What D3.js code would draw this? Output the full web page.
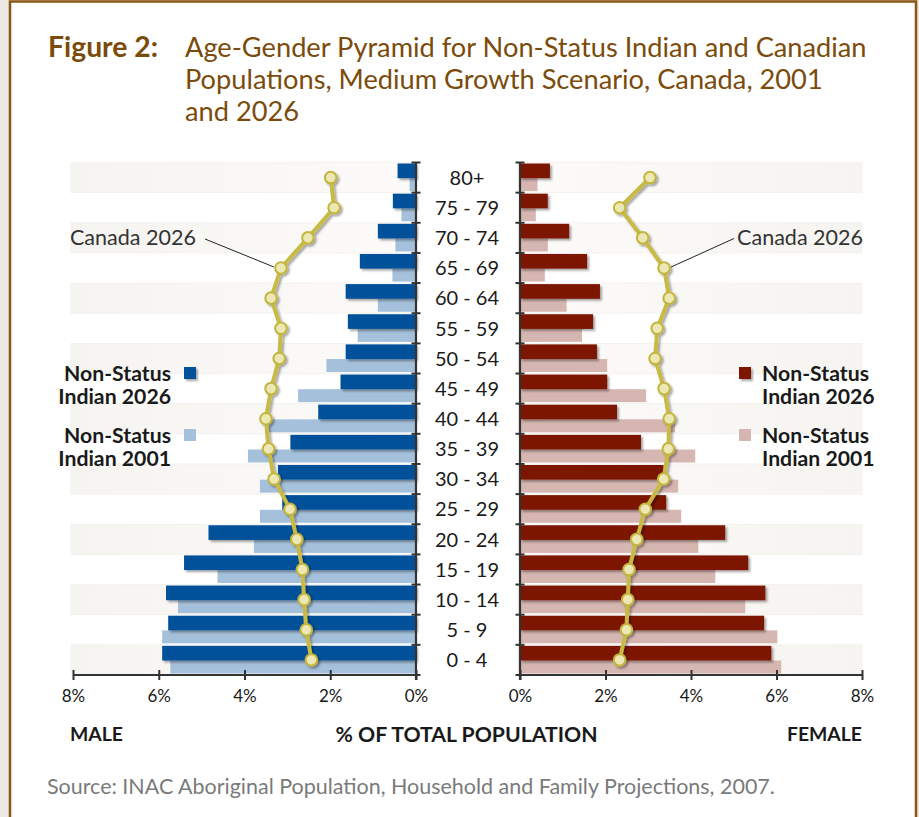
<!DOCTYPE html>
<html>
<head>
<meta charset="utf-8">
<script src="https://cdn.jsdelivr.net/npm/d3@7"></script>
<style>
  html, body { margin: 0; padding: 0; background: #ebe7e2; }
  svg { display: block; }
  text { font-family: Lato, "Open Sans", sans-serif; }
</style>
</head>
<body>
<svg id="chart" width="919" height="817"></svg>
<script>
// ---------- DATA (bottom age group first) ----------
const ages = ["0 - 4","5 - 9","10 - 14","15 - 19","20 - 24","25 - 29","30 - 34","35 - 39","40 - 44","45 - 49","50 - 54","55 - 59","60 - 64","65 - 69","70 - 74","75 - 79","80+"];
const male2026     = [5.92,5.78,5.83,5.41,4.84,3.12,3.22,2.93,2.28,1.76,1.64,1.59,1.64,1.31,0.89,0.54,0.43];
const male2001     = [5.73,5.92,5.55,4.63,3.78,3.64,3.64,3.92,3.50,2.75,2.09,1.36,0.89,0.55,0.48,0.34,0.15];
const maleCanada   = [2.44,2.56,2.61,2.65,2.78,2.94,3.31,3.44,3.50,3.38,3.19,3.15,3.38,3.15,2.52,1.91,1.99];
const female2026   = [5.88,5.71,5.74,5.34,4.80,3.42,3.36,2.83,2.27,2.04,1.80,1.71,1.87,1.57,1.15,0.65,0.70];
const female2001   = [6.11,6.02,5.27,4.57,4.17,3.77,3.70,4.10,3.63,2.95,2.04,1.45,1.09,0.58,0.65,0.37,0.41];
const femaleCanada = [2.33,2.49,2.52,2.55,2.73,2.93,3.36,3.47,3.49,3.37,3.16,3.21,3.49,3.37,2.87,2.33,3.04];
const xTicks = [0,2,4,6,8];
const titleLines = ["Age-Gender Pyramid for Non-Status Indian and Canadian","Populations, Medium Growth Scenario, Canada, 2001","and 2026"];

// ---------- STYLE ----------
const C = {
  blueDark:"#00519a", blueLight:"#a5c0da", redDark:"#7b1600", redLight:"#d6b6b1",
  line:"#c8ba42", ptFill:"#ece8b6", ptStroke:"#c3b43b",
  title:"#7b4b0b", frame:"#8a5716", text:"#1a1a1a", axis:"#333333", source:"#7a7a7a"
};

const svg = d3.select("#chart");
const defs = svg.append("defs");
const sh = defs.append("filter").attr("id","shadow").attr("x","-10%").attr("y","-30%").attr("width","130%").attr("height","180%");
sh.append("feDropShadow").attr("dx",2).attr("dy",2).attr("stdDeviation",1.3).attr("flood-color","#000").attr("flood-opacity",0.35);
const gL = defs.append("linearGradient").attr("id","gradL");
gL.append("stop").attr("offset","0%").attr("stop-color","#f6f4f0");
gL.append("stop").attr("offset","100%").attr("stop-color","#fcfbfa");
const gR = defs.append("linearGradient").attr("id","gradR");
gR.append("stop").attr("offset","0%").attr("stop-color","#fcfbfa");
gR.append("stop").attr("offset","100%").attr("stop-color","#f6f4f0");

// frame
svg.append("rect").attr("x",10).attr("y",1.5).attr("width",906).attr("height",900)
  .attr("fill","#fff").attr("stroke",C.frame).attr("stroke-width",2.5);

function fit(sel, w){
  const cur = sel.node().getComputedTextLength();
  const fs = parseFloat(sel.attr("font-size"));
  const nfs = fs * w / cur;
  sel.attr("font-size", nfs);
  return nfs;
}

// ---------- TITLE ----------
const fig = svg.append("text").attr("x",48).attr("y",57).attr("font-size",26).attr("font-weight",700)
  .attr("fill",C.title).text("Figure 2:");
fit(fig, 110);
const t1 = svg.append("text").attr("x",185).attr("y",57).attr("font-size",26).attr("fill",C.title).text(titleLines[0]);
const tfs = fit(t1, 682);
titleLines.slice(1).forEach((l,i)=>{
  svg.append("text").attr("x",185).attr("y",89+32*i).attr("font-size",tfs).attr("fill",C.title).text(l);
});

// ---------- SCALES ----------
const agesTop = ages.slice().reverse();
const y = d3.scaleBand().domain(agesTop).range([162.5, 675]);
const bw = y.bandwidth();
const xL = d3.scaleLinear().domain([0,8]).range([416, 73]);
const xR = d3.scaleLinear().domain([0,8]).range([520, 862]);

const rows = ages.map((a,i)=>({age:a, i, m26:male2026[i], m01:male2001[i], mc:maleCanada[i],
  f26:female2026[i], f01:female2001[i], fc:femaleCanada[i]}));

// stripes
const stripeRows = rows.filter(d=>d.i%2===0);
[[xL(8), xL(0), "url(#gradL)"], [xR(0), xR(8), "url(#gradR)"]].forEach(([x0,x1,fill])=>{
  svg.append("g").selectAll("rect").data(stripeRows).join("rect")
    .attr("x",x0-2).attr("width",x1-x0+2).attr("y",d=>y(d.age)).attr("height",bw)
    .attr("fill",fill).attr("stroke","#f2efeb").attr("stroke-width",0.8);
});

// bars
const lightY = d=>y(d.age)+bw*0.52, lightH = bw*0.48-1.5;
const darkY = d=>y(d.age)+1, darkH = bw*0.52-1;
svg.append("g").selectAll("rect").data(rows).join("rect")
  .attr("x",d=>xL(d.m01)).attr("width",d=>xL(0)-xL(d.m01)).attr("y",lightY).attr("height",lightH).attr("fill",C.blueLight);
svg.append("g").selectAll("rect").data(rows).join("rect")
  .attr("x",xR(0)).attr("width",d=>xR(d.f01)-xR(0)).attr("y",lightY).attr("height",lightH).attr("fill",C.redLight);
svg.append("g").attr("filter","url(#shadow)").selectAll("rect").data(rows).join("rect")
  .attr("x",d=>xL(d.m26)).attr("width",d=>xL(0)-xL(d.m26)).attr("y",darkY).attr("height",darkH).attr("fill",C.blueDark);
svg.append("g").attr("filter","url(#shadow)").selectAll("rect").data(rows).join("rect")
  .attr("x",xR(0)).attr("width",d=>xR(d.f26)-xR(0)).attr("y",darkY).attr("height",darkH).attr("fill",C.redDark);

// ---------- AXES ----------
const yBottom = y.range()[1];
function xAxis(scale){
  const g = svg.append("g").attr("transform",`translate(0,${yBottom})`)
    .call(d3.axisBottom(scale).tickValues(xTicks).tickFormat(d=>d+"%").tickSize(5).tickPadding(10));
  g.select(".domain").attr("stroke",C.axis).attr("stroke-width",2.2).attr("d",`M${scale.range()[0]},0H${scale.range()[1]}`);
  g.selectAll(".tick line").attr("stroke",C.axis).attr("stroke-width",2).attr("y1",-5).attr("y2",5);
  g.selectAll(".tick text").attr("fill",C.text).attr("font-size",17).attr("font-family","Lato, sans-serif");
}
xAxis(xL); xAxis(xR);
const bounds = agesTop.map(a=>y(a)).concat([yBottom]);
[xL(0), xR(0)].forEach(x0=>{
  svg.append("line").attr("x1",x0).attr("x2",x0).attr("y1",y.range()[0]).attr("y2",yBottom+5)
    .attr("stroke",C.axis).attr("stroke-width",2.2);
  svg.append("g").selectAll("line").data(bounds).join("line")
    .attr("x1",x0-4.5).attr("x2",x0+4.5).attr("y1",d=>d).attr("y2",d=>d)
    .attr("stroke",C.axis).attr("stroke-width",2);
});

// age labels
const ageG = svg.append("g");
const sample = ageG.append("text").attr("font-size",18).text("75 - 79");
const afs = Math.min(20, fit(sample, 66));
sample.remove();
ageG.selectAll("text").data(rows).join("text")
  .attr("x",467).attr("y",d=>y(d.age)+bw/2).attr("dy","0.36em").attr("text-anchor","middle")
  .attr("font-size",afs).attr("fill",C.text).text(d=>d.age);

// ---------- CANADA LINES ----------
function canada(scale, key){
  const line = d3.line().x(d=>scale(d[key])).y(d=>y(d.age)+bw/2);
  const g = svg.append("g").attr("filter","url(#shadow)");
  g.append("path").datum(rows).attr("d",line).attr("fill","none").attr("stroke",C.line).attr("stroke-width",4).attr("stroke-linejoin","round");
  g.selectAll("circle").data(rows).join("circle")
    .attr("cx",d=>scale(d[key])).attr("cy",d=>y(d.age)+bw/2).attr("r",5.8)
    .attr("fill",C.ptFill).attr("stroke",C.ptStroke).attr("stroke-width",2);
}
canada(xL,"mc"); canada(xR,"fc");

// annotations
const r65 = rows.find(d=>d.age==="65 - 69");
const cyA = y(r65.age)+bw/2;
svg.append("line").attr("x1",205).attr("y1",239).attr("x2",xL(r65.mc)-7).attr("y2",cyA-1).attr("stroke","#222").attr("stroke-width",1);
svg.append("line").attr("x1",734).attr("y1",238.5).attr("x2",xR(r65.fc)+7).attr("y2",cyA-1).attr("stroke","#222").attr("stroke-width",1);
const aL = svg.append("text").attr("x",70).attr("y",237.5).attr("dy","0.36em").attr("font-size",19).attr("fill","#333").text("Canada 2026");
const cfs = fit(aL, 126);
svg.append("text").attr("x",863).attr("y",237.5).attr("dy","0.36em").attr("text-anchor","end").attr("font-size",cfs).attr("fill","#333").text("Canada 2026");

// ---------- LEGENDS ----------
const leg = [
  {lines:["Non-Status","Indian 2026"], fillL:C.blueDark, fillR:C.redDark, y:373, shadow:true},
  {lines:["Non-Status","Indian 2001"], fillL:C.blueLight, fillR:C.redLight, y:435, shadow:false}
];
const s0 = svg.append("text").attr("font-size",19).attr("font-weight",700).text("Non-Status");
const lfs = fit(s0, 107);
s0.remove();
leg.forEach(l=>{
  l.lines.forEach((t,k)=>{
    svg.append("text").attr("x",171).attr("y",l.y+k*23.5).attr("dy","0.36em").attr("text-anchor","end")
      .attr("font-size",lfs).attr("font-weight",700).attr("fill",C.text).text(t);
    svg.append("text").attr("x",762).attr("y",l.y+k*23.5).attr("dy","0.36em")
      .attr("font-size",lfs).attr("font-weight",700).attr("fill",C.text).text(t);
  });
  svg.append("rect").attr("x",184).attr("y",l.y-6).attr("width",12).attr("height",12).attr("fill",l.fillL)
    .attr("filter",l.shadow?"url(#shadow)":null);
  svg.append("rect").attr("x",739).attr("y",l.y-6).attr("width",12).attr("height",12).attr("fill",l.fillR)
    .attr("filter",l.shadow?"url(#shadow)":null);
});

// ---------- BOTTOM LABELS ----------
const male = svg.append("text").attr("x",70).attr("y",734).attr("dy","0.36em").attr("font-size",18).attr("font-weight",700).attr("fill",C.text).text("MALE");
const bfs = fit(male, 53);
const pct = svg.append("text").attr("x",466.5).attr("y",734).attr("dy","0.36em").attr("text-anchor","middle").attr("font-size",bfs).attr("font-weight",700).attr("fill",C.text).text("% OF TOTAL POPULATION");
fit(pct, 262);
svg.append("text").attr("x",862).attr("y",734).attr("dy","0.36em").attr("text-anchor","end").attr("font-size",bfs).attr("font-weight",700).attr("fill",C.text).text("FEMALE");

const src = svg.append("text").attr("x",47).attr("y",786).attr("dy","0.36em").attr("font-size",17).attr("fill",C.source)
  .text("Source: INAC Aboriginal Population, Household and Family Projections, 2007.");
fit(src, 728);
</script>
</body>
</html>
